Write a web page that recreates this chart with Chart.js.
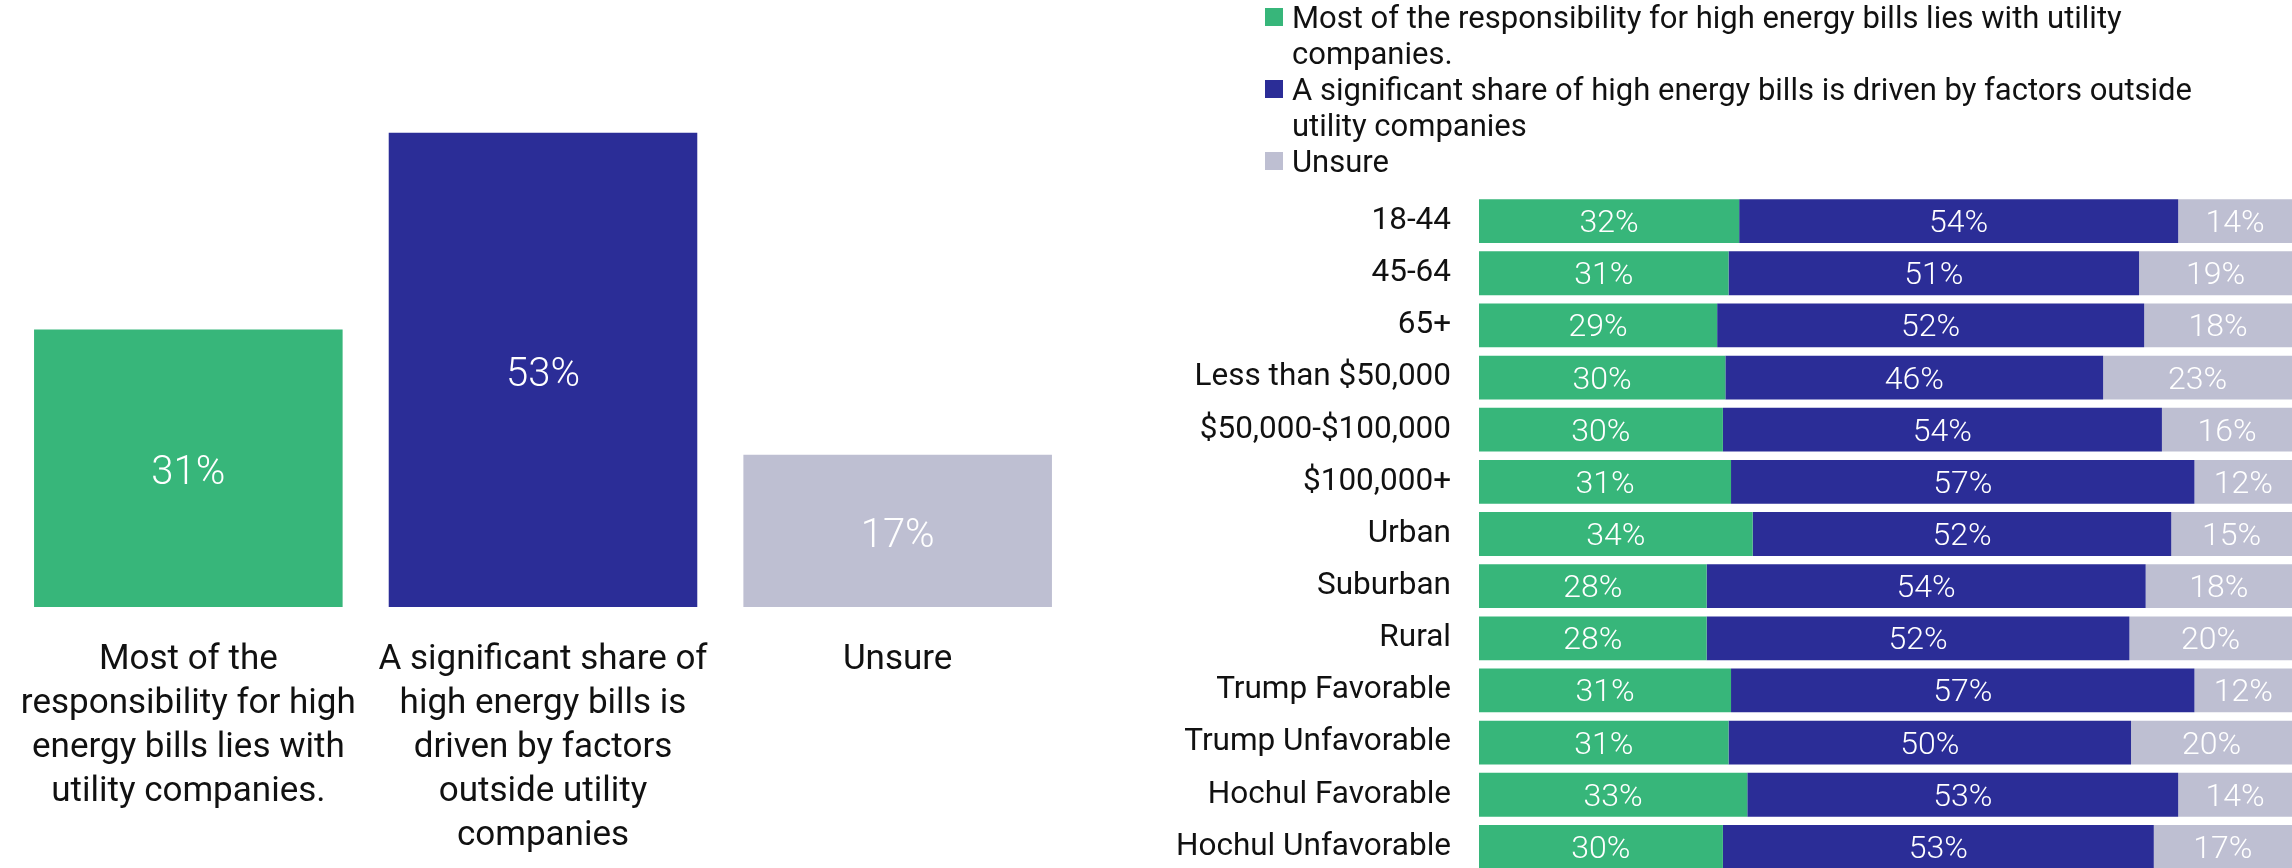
<!DOCTYPE html>
<html>
<head>
<meta charset="utf-8">
<script src="https://cdn.jsdelivr.net/npm/chart.js@4.4.1/dist/chart.umd.min.js"></script>
<style>
  html, body { margin: 0; padding: 0; background: #fff; overflow: hidden; }
  #left { position: absolute; left: 0; top: 0; width: 1086px; height: 868px; }
  #right { position: absolute; left: 1100px; top: 0; width: 1192px; height: 873px; }
</style>
</head>
<body>
<div id="left"><canvas id="overall"></canvas></div>
<div id="right"><canvas id="groups"></canvas></div>
<script>
// series
const seriesNames = [
  "Most of the responsibility for high energy bills lies with utility companies.",
  "A significant share of high energy bills is driven by factors outside utility companies",
  "Unsure"
];
const seriesColors = ["#37B67A", "#2B2D97", "#BEBFD2"];

// left chart: overall
const overallLabels = [
  ["Most of the", "responsibility for high", "energy bills lies with", "utility companies."],
  ["A significant share of", "high energy bills is", "driven by factors", "outside utility", "companies"],
  ["Unsure"]
];
const overallValues = [31, 53, 17];

// right chart: by group
const legendLines = [
  ["Most of the responsibility for high energy bills lies with utility", "companies."],
  ["A significant share of high energy bills is driven by factors outside", "utility companies"],
  ["Unsure"]
];
const groups = ["18-44", "45-64", "65+", "Less than $50,000", "$50,000-$100,000", "$100,000+",
  "Urban", "Suburban", "Rural", "Trump Favorable", "Trump Unfavorable", "Hochul Favorable", "Hochul Unfavorable"];
const utilityShare = [32, 31, 29, 30, 30, 31, 34, 28, 28, 31, 31, 33, 30];
const outsideShare = [54, 51, 52, 46, 54, 57, 52, 54, 52, 57, 50, 53, 53];
const unsureShare  = [14, 19, 18, 23, 16, 12, 15, 18, 20, 12, 20, 14, 17];

Chart.defaults.font.family = "Roboto, 'Liberation Sans', sans-serif";
Chart.defaults.color = "#111";

// rows are drawn as 100% stacked bars (rounded values don't always add to 100)
const rowTotals = groups.map((g, i) => utilityShare[i] + outsideShare[i] + unsureShare[i]);
const asShare = arr => arr.map((v, i) => v / rowTotals[i] * 100);

// scales should not push the chart area in for label overhang
function noScalePadding(scale) {
  scale.paddingLeft = 0;
  scale.paddingRight = 0;
  scale.paddingTop = 0;
  scale.paddingBottom = 0;
}

// white % labels in the middle of each bar
const barValueLabels = {
  id: 'barValueLabels',
  afterDatasetsDraw(chart, args, opts) {
    const ctx = chart.ctx;
    const area = chart.chartArea;
    ctx.save();
    ctx.font = "300 " + opts.size + "px Roboto";
    ctx.fillStyle = "#fff";
    ctx.textAlign = "center";
    ctx.textBaseline = "middle";
    chart.data.datasets.forEach((ds, di) => {
      const shown = ds.valueLabels || ds.data;
      chart.getDatasetMeta(di).data.forEach((bar, i) => {
        let x, y;
        if (chart.options.indexAxis === 'y') {
          const l = Math.min(bar.x, bar.base);
          const r = Math.min(Math.max(bar.x, bar.base), area.right);
          x = (l + r) / 2;
          y = bar.y;
        } else {
          x = bar.x;
          y = (bar.y + bar.base) / 2;
        }
        ctx.fillText(shown[i] + "%", x, y + (opts.shift || 0));
      });
    });
    ctx.restore();
  }
};

// legend with wrapped lines
const wrappedLegend = {
  id: 'wrappedLegend',
  afterDraw(chart) {
    const ctx = chart.ctx;
    ctx.save();
    ctx.font = "400 31px Roboto";
    ctx.textAlign = "left";
    ctx.textBaseline = "alphabetic";
    let base = 28;
    chart.data.datasets.forEach((ds, di) => {
      ctx.fillStyle = ds.backgroundColor;
      ctx.fillRect(165, base - 20, 18, 18);
      ctx.fillStyle = "#111";
      legendLines[di].forEach(line => {
        ctx.fillText(line, 192, base);
        base += 36;
      });
    });
    ctx.restore();
  }
};

new Chart(document.getElementById("overall"), {
  type: 'bar',
  data: {
    labels: overallLabels,
    datasets: [{
      label: "Overall",
      data: overallValues,
      backgroundColor: seriesColors,
      barPercentage: 0.87,
      categoryPercentage: 1
    }]
  },
  options: {
    responsive: true,
    maintainAspectRatio: false,
    animation: false,
    layout: { padding: { top: 70, left: 11, right: 11, bottom: 0 } },
    plugins: {
      legend: { display: false },
      tooltip: { enabled: false },
      barValueLabels: { size: 40, shift: 6 }
    },
    scales: {
      x: {
        grid: { display: false },
        border: { display: false },
        ticks: { padding: 23, maxRotation: 0, autoSkip: false, color: "#111", font: { size: 35, lineHeight: 1.26 } },
        afterFit(scale) { scale.height = 261; noScalePadding(scale); }
      },
      y: { display: false, min: 0, max: 60 }
    }
  },
  plugins: [barValueLabels]
});

new Chart(document.getElementById("groups"), {
  type: 'bar',
  data: {
    labels: groups,
    datasets: [
      { label: seriesNames[0], data: asShare(utilityShare), valueLabels: utilityShare, backgroundColor: seriesColors[0], barPercentage: 0.84, categoryPercentage: 1 },
      { label: seriesNames[1], data: asShare(outsideShare), valueLabels: outsideShare, backgroundColor: seriesColors[1], barPercentage: 0.84, categoryPercentage: 1 },
      { label: seriesNames[2], data: asShare(unsureShare), valueLabels: unsureShare, backgroundColor: seriesColors[2], barPercentage: 0.84, categoryPercentage: 1 }
    ]
  },
  options: {
    indexAxis: 'y',
    responsive: true,
    maintainAspectRatio: false,
    animation: false,
    layout: { padding: { top: 195, left: 0, right: 0, bottom: 0 } },
    plugins: {
      legend: { display: false },
      tooltip: { enabled: false },
      barValueLabels: { size: 32, shift: 3 }
    },
    scales: {
      x: { stacked: true, min: 0, max: 100, display: false },
      y: {
        stacked: true,
        grid: { display: false },
        border: { display: false },
        ticks: { padding: 20, color: "#111", font: { size: 31.5 } },
        afterFit(scale) { scale.width = 379; noScalePadding(scale); }
      }
    }
  },
  plugins: [barValueLabels, wrappedLegend]
});
</script>
</body>
</html>
